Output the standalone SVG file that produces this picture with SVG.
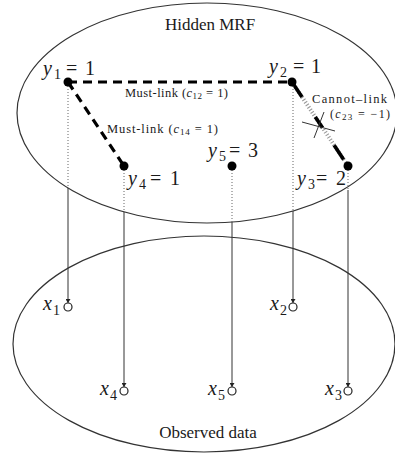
<svg xmlns="http://www.w3.org/2000/svg" width="395" height="459" viewBox="0 0 395 459">
<style>
.ell{fill:none;stroke:#333;stroke-width:1.2}
.t{font-family:"Liberation Serif","Times New Roman",serif;fill:#1a1a1a}
.big{font-size:20px}
.sm{font-size:12.5px}
.i{font-style:italic}
.dot{stroke:#666;stroke-width:1;stroke-dasharray:1 2;fill:none}
.sol{stroke:#333;stroke-width:1;fill:none}
.must{stroke:#000;stroke-width:3.2;stroke-dasharray:9 6;fill:none}
.hid{fill:#000}
.obs{fill:#fff;stroke:#222;stroke-width:1.2}
</style>
<defs>
<marker id="ah" viewBox="0 0 8 10" refX="8" refY="5" markerWidth="5" markerHeight="5" orient="auto" markerUnits="userSpaceOnUse">
<path d="M0,0 L8,5 L0,10 z" fill="#222"/>
</marker>
</defs>

<g id="hidden-mrf">
<ellipse class="ell" cx="207" cy="113" rx="190" ry="110"/>
<text class="t" x="210" y="30" font-size="17" text-anchor="middle">Hidden MRF</text>
</g>
<g id="observed-data">
<ellipse class="ell" cx="204" cy="344" rx="191" ry="108"/>
<text class="t" x="208" y="438" font-size="17" text-anchor="middle">Observed data</text>
</g>

<g id="connectors">
<line class="must" x1="68" y1="82" x2="292" y2="82"/>
<line class="must" x1="68" y1="82" x2="124" y2="166"/>
<line x1="292" y1="82" x2="348" y2="166" stroke="#999" stroke-width="4" stroke-dasharray="1 2"/>
<line x1="292" y1="82" x2="348" y2="166" stroke="#000" stroke-width="3.6" stroke-dasharray="18 24 13 21 17 4 10"/>
<line x1="314" y1="138" x2="324" y2="112" stroke="#333" stroke-width="1"/>
<line x1="302" y1="122" x2="335" y2="131" stroke="#333" stroke-width="1"/>
<text class="t sm" x="125" y="97" textLength="103">Must-link (<tspan class="i">c</tspan><tspan font-size="9" dy="2">12</tspan><tspan dy="-2"> = 1)</tspan></text>
<text class="t sm" x="107" y="133" textLength="111">Must-link (<tspan class="i">c</tspan><tspan font-size="9" dy="2">14</tspan><tspan dy="-2"> = 1)</tspan></text>
<text class="t" x="312" y="103" font-size="12.5" textLength="75">Cannot–link</text>
<text class="t" x="330" y="118" font-size="12" textLength="60">(<tspan class="i">c</tspan><tspan font-size="9" dy="2">23</tspan><tspan dy="-2"> = −1)</tspan></text>

<line class="dot" x1="68" y1="86" x2="68" y2="188"/>
<line class="sol" x1="68" y1="188" x2="68" y2="303" marker-end="url(#ah)"/>
<line class="dot" x1="293" y1="86" x2="293" y2="211"/>
<line class="sol" x1="293" y1="211" x2="293" y2="303" marker-end="url(#ah)"/>
<line class="dot" x1="348" y1="170" x2="348" y2="190"/>
<line class="sol" x1="348" y1="190" x2="348" y2="387" marker-end="url(#ah)"/>
<line class="dot" x1="124" y1="170" x2="124" y2="212"/>
<line class="sol" x1="124" y1="212" x2="124" y2="387" marker-end="url(#ah)"/>
<line class="dot" x1="232" y1="170" x2="232" y2="222"/>
<line class="sol" x1="232" y1="222" x2="232" y2="387" marker-end="url(#ah)"/>
</g>

<g id="y1">
<circle class="hid" cx="68" cy="82" r="4.5"/>
<text class="t big" y="75"><tspan class="i" x="43">y</tspan><tspan font-size="14" x="54" y="79">1</tspan><tspan x="66" y="75">=</tspan><tspan x="85">1</tspan></text>
</g>
<g id="y2">
<circle class="hid" cx="292" cy="82" r="4.5"/>
<text class="t big" y="73"><tspan class="i" x="269">y</tspan><tspan font-size="14" x="280" y="77">2</tspan><tspan x="293" y="73">=</tspan><tspan x="311">1</tspan></text>
</g>
<g id="y3">
<circle class="hid" cx="348" cy="166" r="4.5"/>
<text class="t big" y="185"><tspan class="i" x="297">y</tspan><tspan font-size="14" x="308" y="189">3</tspan><tspan x="316" y="185">=</tspan><tspan x="336">2</tspan></text>
</g>
<g id="y4">
<circle class="hid" cx="124" cy="166" r="4.5"/>
<text class="t big" y="185"><tspan class="i" x="128">y</tspan><tspan font-size="14" x="139" y="189">4</tspan><tspan x="150" y="185">=</tspan><tspan x="170">1</tspan></text>
</g>
<g id="y5">
<circle class="hid" cx="232" cy="166" r="4.5"/>
<text class="t big" y="157"><tspan class="i" x="208">y</tspan><tspan font-size="14" x="219" y="161">5</tspan><tspan x="229" y="157">=</tspan><tspan x="248">3</tspan></text>
</g>

<g id="x1">
<circle class="obs" cx="68" cy="307" r="4"/>
<text class="t big" y="310"><tspan class="i" x="43">x</tspan><tspan font-size="14" x="53" y="315">1</tspan></text>
</g>
<g id="x2">
<circle class="obs" cx="293" cy="307" r="4"/>
<text class="t big" y="310"><tspan class="i" x="270">x</tspan><tspan font-size="14" x="280" y="315">2</tspan></text>
</g>
<g id="x3">
<circle class="obs" cx="348" cy="391" r="4"/>
<text class="t big" y="395"><tspan class="i" x="325">x</tspan><tspan font-size="14" x="335" y="400">3</tspan></text>
</g>
<g id="x4">
<circle class="obs" cx="124" cy="391" r="4"/>
<text class="t big" y="395"><tspan class="i" x="100">x</tspan><tspan font-size="14" x="110" y="400">4</tspan></text>
</g>
<g id="x5">
<circle class="obs" cx="232" cy="391" r="4"/>
<text class="t big" y="395"><tspan class="i" x="208">x</tspan><tspan font-size="14" x="218" y="400">5</tspan></text>
</g>
</svg>
